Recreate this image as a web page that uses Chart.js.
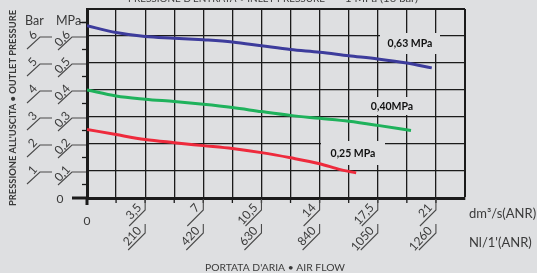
<!DOCTYPE html>
<html>
<head>
<meta charset="utf-8">
<script src="https://cdn.jsdelivr.net/npm/chart.js@4/dist/chart.umd.min.js"></script>
<style>
  html,body{margin:0;padding:0;background:#dedfe1;overflow:hidden;}
  canvas{display:block;}
</style>
</head>
<body>
<canvas id="c" width="537" height="273"></canvas>
<script>
// ---- data ----
const xMin = 0, xMax = 22.75, xStep = 1.75;
const yMin = 0, yMax = 0.7, yStep = 0.1;

const xTickValues = [0, 3.5, 7, 10.5, 14, 17.5, 21];
const xTickDm3 = ['0', '3,5', '7', '10,5', '14', '17,5', '21'];
const xTickNl = ['', '210', '420', '630', '840', '1050', '1260'];

const yTickValues = [0.1, 0.2, 0.3, 0.4, 0.5, 0.6];
const yTickBar = ['1', '2', '3', '4', '5', '6'];
const yTickMPa = ['0,1', '0,2', '0,3', '0,4', '0,5', '0,6'];

const seriesNames = ['0,63 MPa', '0,40MPa', '0,25 MPa'];

const blueX = [0, 1.75, 3.5, 5.25, 7, 8.75, 10.5, 12.25, 14, 15.75, 17.5, 19.25, 20.75];
const blueY = [0.638, 0.613, 0.598, 0.592, 0.586, 0.578, 0.564, 0.550, 0.540, 0.527, 0.515, 0.500, 0.482];

const greenX = [0, 1.75, 3.5, 5.25, 7, 8.75, 10.5, 12.25, 14, 15.75, 17.5, 19.5];
const greenY = [0.400, 0.378, 0.366, 0.357, 0.347, 0.335, 0.320, 0.306, 0.295, 0.284, 0.269, 0.250];

const redX = [0, 1.75, 3.5, 5.25, 7, 8.75, 10.5, 12.25, 14, 15.25, 16.2];
const redY = [0.254, 0.235, 0.217, 0.205, 0.194, 0.183, 0.168, 0.149, 0.127, 0.105, 0.093];

const toPts = (xs, ys) => xs.map((x, i) => ({x: x, y: ys[i]}));

// ---- styling ----
const BG = '#dedfe1';
const INK = '#1b1b1b';
const TXT = '#3a3a3a';
const FONT = 'Lato, "DejaVu Sans", sans-serif';

function rotText(ctx, txt, x, y, ang, align, base, font) {
  ctx.save();
  ctx.translate(x, y);
  ctx.rotate(ang);
  ctx.font = font;
  ctx.textAlign = align;
  ctx.textBaseline = base;
  ctx.fillText(txt, 0, 0);
  ctx.restore();
}
function line(ctx, pts, w) {
  ctx.beginPath();
  ctx.moveTo(pts[0][0], pts[0][1]);
  for (let i = 1; i < pts.length; i++) ctx.lineTo(pts[i][0], pts[i][1]);
  ctx.lineWidth = w;
  ctx.stroke();
}
function fitText(ctx, txt, x, y, width, font) {
  ctx.save();
  ctx.font = font;
  const w = ctx.measureText(txt).width;
  const s = width / w;
  ctx.translate(x, y);
  ctx.scale(s, 1);
  ctx.textAlign = 'left';
  ctx.fillText(txt, 0, 0);
  ctx.restore();
}

const deco = {
  id: 'deco',
  beforeDatasetsDraw(chart) {
    const ctx = chart.ctx;
    ctx.save();
    ctx.fillStyle = BG;
    ctx.fillRect(380, 33, 60, 21);
    ctx.fillRect(362, 97, 60, 18);
    ctx.fillRect(321, 141, 64, 24);
    ctx.fillStyle = '#111';
    ctx.font = 'bold 10.5px ' + FONT;
    ctx.textAlign = 'center';
    ctx.textBaseline = 'middle';
    ctx.fillText(seriesNames[0], 410, 44);
    ctx.fillText(seriesNames[1], 392, 107);
    ctx.fillText(seriesNames[2], 353, 154);
    ctx.restore();
  },
  afterDraw(chart) {
    const ctx = chart.ctx;
    const xs = chart.scales.x, ys = chart.scales.y;
    const ca = chart.chartArea;
    const L = ca.left, B = ca.bottom;
    const ang = -48 * Math.PI / 180;
    const tickFont = '12px ' + FONT;
    ctx.save();
    ctx.strokeStyle = INK;
    ctx.fillStyle = TXT;
    ctx.lineCap = 'butt';
    // axis extensions
    line(ctx, [[L - 15, B], [L, B]], 3);
    line(ctx, [[L, B], [L, B + 7]], 3);

    // y minor ticks
    for (let v = 0.05; v < yMax; v += 0.1) {
      const py = ys.getPixelForValue(v);
      line(ctx, [[L - 5, py], [L, py]], 1.3);
    }
    // y major decorations + labels
    ctx.strokeStyle = '#4a4a4a';
    yTickValues.forEach((v, i) => {
      const py = ys.getPixelForValue(v);
      line(ctx, [[58, py + 14], [72, py + 1], [L - 1, py + 1]], 1.1);
      line(ctx, [[27, py + 13], [40, py + 1], [52, py + 1]], 1.1);
      ctx.fillStyle = TXT;
      rotText(ctx, yTickMPa[i], 71, py - 1, ang, 'right', 'alphabetic', tickFont);
      rotText(ctx, yTickBar[i], 38, py - 1, ang, 'right', 'alphabetic', tickFont);
    });
    // y zero label
    ctx.font = tickFont;
    ctx.textAlign = 'center';
    ctx.textBaseline = 'middle';
    ctx.fillText('0', 60, ys.getPixelForValue(0) + 1);
    // Bar / MPa header
    ctx.textAlign = 'left';
    ctx.font = '12.5px ' + FONT;
    ctx.fillText('Bar', 25, 21);
    ctx.fillText('MPa', 56, 21);
    ctx.strokeStyle = INK;
    const p65 = ys.getPixelForValue(0.65);
    line(ctx, [[80, p65], [L, p65]], 1.3);

    // x minor ticks
    for (let v = xStep; v < xMax; v += xStep) {
      const px = xs.getPixelForValue(v);
      line(ctx, [[px, B], [px, B + 5]], 1.3);
    }
    // x labels
    ctx.strokeStyle = '#4a4a4a';
    xTickValues.forEach((v, i) => {
      const px = xs.getPixelForValue(v);
      if (v === 0) {
        ctx.fillStyle = TXT;
        ctx.font = tickFont;
        ctx.textAlign = 'center';
        ctx.textBaseline = 'middle';
        ctx.fillText(xTickDm3[i], px, 221);
        return;
      }
      line(ctx, [[px, B + 1], [px, 210], [px - 16, 226]], 1.1);
      line(ctx, [[px, 224], [px, 233], [px - 17, 250]], 1.1);
      ctx.fillStyle = TXT;
      rotText(ctx, xTickDm3[i], px - 3, 208, ang, 'right', 'alphabetic', tickFont);
      rotText(ctx, xTickNl[i], px - 3, 231, ang, 'right', 'alphabetic', tickFont);
    });

    // units
    ctx.fillStyle = TXT;
    ctx.font = '13px ' + FONT;
    ctx.textAlign = 'left';
    ctx.textBaseline = 'middle';
    ctx.fillText('dm\u00B3/s(ANR)', 469, 214);
    ctx.fillText('Nl/1\'(ANR)', 469, 243);

    // axis titles
    ctx.fillStyle = '#3a3a3a';
    ctx.textBaseline = 'alphabetic';
    fitText(ctx, 'PORTATA D\'ARIA \u2022 AIR FLOW', 205, 271, 140, '9px ' + FONT);
    ctx.save();
    ctx.translate(16, 206);
    ctx.rotate(-Math.PI / 2);
    fitText(ctx, 'PRESSIONE ALL\'USCITA \u2022 OUTLET PRESSURE', 0, 0, 196, 'bold 9px ' + FONT);
    ctx.restore();
    // top title (cut off at the top edge)
    fitText(ctx, 'PRESSIONE D\'ENTRATA \u2022 INLET PRESSURE', 128, 2, 197, '10px ' + FONT);
    fitText(ctx, '1 MPa (10 bar)', 345, 2, 73, '10px ' + FONT);
    ctx.restore();
  }
};

new Chart(document.getElementById('c'), {
  type: 'line',
  data: {
    datasets: [
      {label: seriesNames[0], data: toPts(blueX, blueY), borderColor: '#3d3c9c', borderWidth: 3, pointRadius: 0, cubicInterpolationMode: 'monotone', fill: false},
      {label: seriesNames[1], data: toPts(greenX, greenY), borderColor: '#1fb25c', borderWidth: 3, pointRadius: 0, cubicInterpolationMode: 'monotone', fill: false},
      {label: seriesNames[2], data: toPts(redX, redY), borderColor: '#ee2a3c', borderWidth: 3, pointRadius: 0, cubicInterpolationMode: 'monotone', fill: false}
    ]
  },
  options: {
    responsive: false,
    animation: false,
    events: [],
    layout: {padding: {left: 87, right: 72, top: 9, bottom: 75}},
    plugins: {legend: {display: false}, tooltip: {enabled: false}},
    scales: {
      x: {
        type: 'linear', min: xMin, max: xMax,
        afterFit: s => { s.height = 0; },
        ticks: {display: false, stepSize: xStep},
        grid: {
          drawTicks: false, color: INK,
          lineWidth: c => (c.tick && Math.abs(c.tick.value - xMax) < 1e-6) ? 2 : 1.3
        },
        border: {display: true, color: INK, width: 3}
      },
      y: {
        type: 'linear', min: yMin, max: yMax,
        afterFit: s => { s.width = 0; },
        ticks: {display: false, stepSize: yStep},
        grid: {
          drawTicks: false, color: INK,
          lineWidth: c => (c.tick && Math.abs(c.tick.value - yMax) < 1e-6) ? 2 : 1.3
        },
        border: {display: true, color: INK, width: 3}
      }
    }
  },
  plugins: [deco]
});
</script>
</body>
</html>
